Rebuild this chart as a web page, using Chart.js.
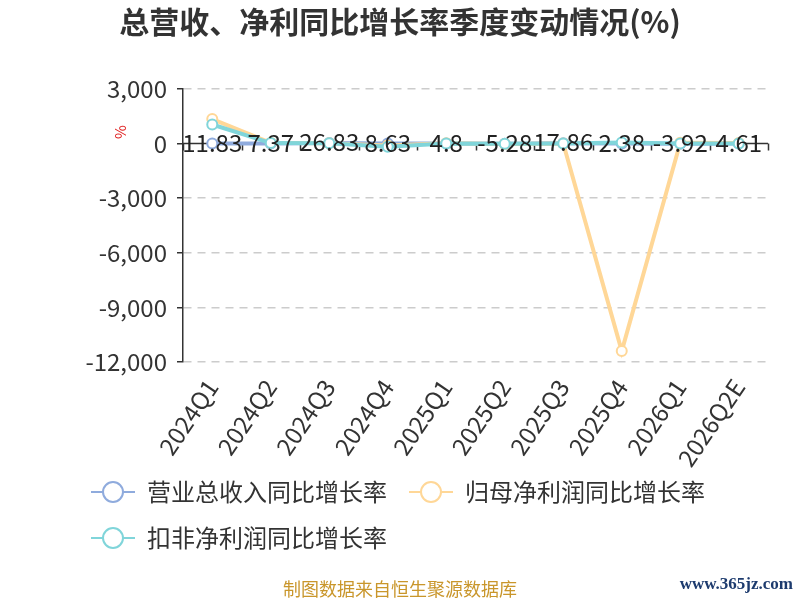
<!DOCTYPE html>
<html>
<head>
<meta charset="utf-8">
<title>总营收、净利同比增长率季度变动情况(%)</title>
<script src="https://cdn.jsdelivr.net/npm/chart.js@4"></script>
<style>
  html, body { margin: 0; padding: 0; background: #fff; }
  #wrap { width: 800px; height: 600px; }
</style>
</head>
<body>
<div id="wrap"><canvas id="growthChart" width="800" height="600"></canvas></div>
<script>
// 季度
const quarters = ['2024Q1', '2024Q2', '2024Q3', '2024Q4', '2025Q1', '2025Q2', '2025Q3', '2025Q4', '2026Q1', '2026Q2E'];
// 营业总收入同比增长率 (%)
const revenueGrowth = [11.83, 7.37, 26.83, 8.63, 4.8, -5.28, 17.86, 2.38, -3.92, 4.61];
// 归母净利润同比增长率 (%) - 读图估算
const netProfitGrowth = [1350, 40, 20, -100, 15, -20, 10, -11400, 50, 30];
// 扣非净利润同比增长率 (%) - 读图估算
const deductedProfitGrowth = [1050, 30, 15, -170, 5, -15, 5, 60, 10, 5];
// 纵轴刻度
const yTicks = [3000, 0, -3000, -6000, -9000, -12000];

const FONT = "'Noto Sans CJK SC', 'Noto Sans', sans-serif";
const colors = {
  revenue: '#8fabdd',
  net: '#ffd797',
  deducted: '#80d5da',
  text: '#333333',
  grid: '#cccccc'
};

// 图例图标：线 + 空心圆
function legendIcon(color) {
  const c = document.createElement('canvas');
  c.width = 44; c.height = 24;
  const g = c.getContext('2d');
  g.strokeStyle = color;
  g.lineWidth = 2;
  g.beginPath(); g.moveTo(0, 12); g.lineTo(44, 12); g.stroke();
  g.fillStyle = '#fff';
  g.beginPath(); g.arc(22, 12, 10, 0, Math.PI * 2); g.fill(); g.stroke();
  return c;
}
const icons = [legendIcon(colors.revenue), legendIcon(colors.net), legendIcon(colors.deducted)];

function lineSet(label, data, color, order) {
  return {
    label: label,
    data: data,
    borderColor: color,
    backgroundColor: color,
    borderWidth: 4,
    pointRadius: 5,
    pointBorderWidth: 2,
    pointBackgroundColor: '#fff',
    pointBorderColor: color,
    tension: 0,
    order: order
  };
}

// 标题、单位、零轴、数据标签、来源
const decorations = {
  id: 'decorations',
  afterLayout(chart) {
    // 横轴标签不要被裁掉（标签比轴盒子更长）
    const x = chart.scales.x;
    x.bottom = x.top + 130;
  },
  beforeDatasetsDraw(chart) {
    const { ctx, chartArea, scales } = chart;
    const y0 = scales.y.getPixelForValue(0);
    const n = quarters.length;
    const step = (chartArea.right - chartArea.left) / n;
    ctx.save();
    ctx.strokeStyle = '#333';
    ctx.lineWidth = 1.5;
    ctx.beginPath();
    ctx.moveTo(chartArea.left, y0);
    ctx.lineTo(chartArea.right, y0);
    for (let i = 0; i <= n; i++) {
      const px = Math.round(chartArea.left + i * step) + 0.5;
      ctx.moveTo(px, y0);
      ctx.lineTo(px, y0 + 7);
    }
    ctx.stroke();
    ctx.restore();
  },
  afterDatasetsDraw(chart) {
    const ctx = chart.ctx;
    const meta = chart.getDatasetMeta(0);
    ctx.save();
    ctx.font = '24px ' + FONT;
    ctx.fillStyle = '#222';
    ctx.textAlign = 'center';
    ctx.textBaseline = 'middle';
    meta.data.forEach((pt, i) => {
      ctx.fillText(String(revenueGrowth[i]), pt.x, pt.y - 1);
    });
    ctx.restore();
  },
  afterDraw(chart) {
    const ctx = chart.ctx;
    ctx.save();
    ctx.fillStyle = '#333';
    ctx.textAlign = 'center';
    ctx.textBaseline = 'middle';
    ctx.font = 'bold 30px ' + FONT;
    ctx.fillText('总营收、净利同比增长率季度变动情况(%)', 400, 22);

    ctx.save();
    ctx.translate(120, 132);
    ctx.rotate(-Math.PI / 2);
    ctx.fillStyle = '#e02020';
    ctx.font = '15px ' + FONT;
    ctx.fillText('%', 0, 0);
    ctx.restore();

    ctx.fillStyle = '#c9962b';
    ctx.font = '18px ' + FONT;
    ctx.fillText('制图数据来自恒生聚源数据库', 400, 589);

    ctx.fillStyle = '#1d3b6e';
    ctx.font = 'bold 17px "Liberation Serif", serif';
    ctx.textAlign = 'right';
    ctx.fillText('www.365jz.com', 793, 585);
    ctx.restore();
  }
};

new Chart(document.getElementById('growthChart'), {
  type: 'line',
  data: {
    labels: quarters,
    datasets: [
      lineSet('营业总收入同比增长率', revenueGrowth, colors.revenue, 3),
      lineSet('归母净利润同比增长率', netProfitGrowth, colors.net, 2),
      lineSet('扣非净利润同比增长率', deductedProfitGrowth, colors.deducted, 1)
    ]
  },
  options: {
    responsive: false,
    animation: false,
    layout: { padding: { top: 89, left: 69, right: 32, bottom: 40 } },
    plugins: {
      title: { display: false },
      tooltip: { enabled: false },
      legend: {
        display: true,
        position: 'bottom',
        align: 'start',
        labels: {
          usePointStyle: true,
          pointStyleWidth: 44,
          boxHeight: 24,
          padding: 22,
          color: colors.text,
          font: { size: 24, family: FONT },
          sort: (a, b) => a.datasetIndex - b.datasetIndex,
          generateLabels: function(chart) {
            return Chart.defaults.plugins.legend.labels.generateLabels(chart).map(function(l) {
              l.pointStyle = icons[l.datasetIndex];
              return l;
            });
          }
        }
      }
    },
    scales: {
      x: {
        offset: true,
        grid: { display: false },
        border: { display: false },
        ticks: {
          autoSkip: false,
          minRotation: 56,
          maxRotation: 56,
          padding: 4,
          color: colors.text,
          font: { size: 24, family: FONT }
        },
        afterFit: function(scale) { scale.height = 96; }
      },
      y: {
        min: yTicks[yTicks.length - 1],
        max: yTicks[0],
        afterBuildTicks: function(scale) {
          scale.ticks = yTicks.map(v => ({ value: v }));
        },
        ticks: {
          padding: 10,
          color: colors.text,
          font: { size: 24, family: FONT },
          callback: v => v.toLocaleString('en-US')
        },
        grid: {
          color: ctx => (ctx.tick && ctx.tick.value === 0) ? 'rgba(0,0,0,0)' : colors.grid,
          lineWidth: 1.5,
          tickLength: 6,
          tickColor: '#333',
          tickWidth: 1.5,
          tickBorderDash: []
        },
        border: { display: true, color: '#333', width: 1.5, dash: [8, 6] },
        afterFit: function(scale) { scale.width = 114; }
      }
    }
  },
  plugins: [decorations]
});
</script>
</body>
</html>
